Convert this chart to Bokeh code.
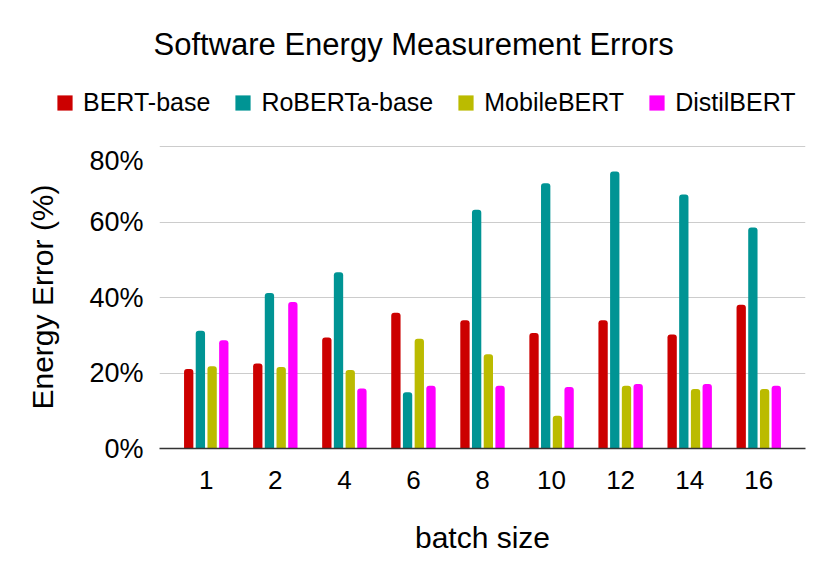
from bokeh.plotting import figure
from bokeh.layouts import column
from bokeh.models import ColumnDataSource, FactorRange, Range1d, Legend, LegendItem, FixedTicker
from bokeh.transform import dodge
from bokeh.embed import file_html
from bokeh.resources import INLINE

batches = ["1", "2", "4", "6", "8", "10", "12", "14", "16"]
models = ["BERT-base", "RoBERTa-base", "MobileBERT", "DistilBERT"]
bert_base = [21.1, 22.5, 29.4, 36.0, 34.0, 30.6, 34.0, 30.2, 38.1]
roberta_base = [31.2, 41.2, 46.7, 14.9, 63.3, 70.3, 73.4, 67.3, 58.6]
mobilebert = [21.8, 21.6, 20.8, 29.1, 25.0, 8.7, 16.6, 15.8, 15.8]
distilbert = [28.7, 38.8, 15.9, 16.6, 16.6, 16.3, 17.1, 17.1, 16.6]
y_ticks = [0, 20, 40, 60, 80]
y_tick_labels = ["0%", "20%", "40%", "60%", "80%"]

colors = ["#cc0000", "#009494", "#bbbb00", "#ff00ff"]
offsets = [-0.254, -0.085, 0.085, 0.254]
FONT = "Liberation Sans"

source = ColumnDataSource(data=dict(batch=batches, m0=bert_base, m1=roberta_base,
                                    m2=mobilebert, m3=distilbert))

# ---- header: title + legend ----
t = figure(width=814, height=145, output_backend="svg", toolbar_location=None,
           x_range=Range1d(0, 1), y_range=Range1d(0, 1),
           x_axis_location=None, y_axis_location=None,
           min_border_left=0, min_border_right=0, min_border_bottom=0, min_border_top=66)
t.frame_align = False
t.outline_line_color = None
t.grid.visible = False
t.title.text = "Software Energy Measurement Errors"
t.title.text_font = FONT
t.title.text_font_size = "31px"
t.title.text_font_style = "normal"
t.title.text_color = "#000000"
t.title.align = "left"
t.title.offset = 153
t.title.standoff = 10

items = []
for i in range(4):
    r = t.vbar(x=[0.5], top=[0], width=0, fill_color=colors[i], line_color=None)
    items.append(LegendItem(label=models[i], renderers=[r]))
legend = Legend(items=items, orientation="horizontal", location=(55, 28),
                glyph_width=19, glyph_height=19, label_standoff=9, spacing=23,
                padding=0, margin=0, border_line_color=None, background_fill_alpha=0,
                label_text_font=FONT, label_text_font_size="25px", label_text_color="#000000")
t.add_layout(legend, "center")

# ---- main chart ----
p = figure(width=814, height=415, output_backend="svg", toolbar_location=None,
           x_range=FactorRange(factors=batches, range_padding=0.177, range_padding_units="absolute"),
           y_range=Range1d(0, 80.3),
           min_border_left=159, min_border_right=9, min_border_top=0, min_border_bottom=112)
p.frame_align = False

for i, key in enumerate(["m0", "m1", "m2", "m3"]):
    p.vbar(x=dodge("batch", offsets[i], range=p.x_range), top=key, width=0.135,
           source=source, fill_color=colors[i], line_color=None, border_radius=(3, 3, 0, 0))

p.outline_line_color = None
p.xgrid.grid_line_color = None
p.ygrid.grid_line_color = "#cccccc"
p.ygrid.grid_line_width = 1

p.yaxis.ticker = FixedTicker(ticks=y_ticks)
p.yaxis.major_label_overrides = {t_: l for t_, l in zip(y_ticks, y_tick_labels)}
p.yaxis.axis_line_color = None
p.yaxis.major_tick_line_color = None
p.yaxis.major_tick_out = 0
p.yaxis.major_tick_in = 0
p.yaxis.minor_tick_line_color = None
p.yaxis.major_label_text_font = FONT
p.yaxis.major_label_text_font_size = "27px"
p.yaxis.major_label_text_color = "#000000"
p.yaxis.major_label_standoff = 16
p.yaxis.axis_label = "Energy Error (%)"
p.yaxis.axis_label_text_font = FONT
p.yaxis.axis_label_text_font_size = "30px"
p.yaxis.axis_label_text_font_style = "normal"
p.yaxis.axis_label_text_color = "#000000"
p.yaxis.axis_label_standoff = 27

p.xaxis.axis_line_color = "#333333"
p.xaxis.axis_line_width = 1.5
p.xaxis.major_tick_line_color = None
p.xaxis.major_tick_out = 0
p.xaxis.major_tick_in = 0
p.xaxis.minor_tick_line_color = None
p.xaxis.major_label_text_font = FONT
p.xaxis.major_label_text_font_size = "26px"
p.xaxis.major_label_text_color = "#000000"
p.xaxis.major_label_standoff = 22
p.xaxis.axis_label = "batch size"
p.xaxis.axis_label_text_font = FONT
p.xaxis.axis_label_text_font_size = "30px"
p.xaxis.axis_label_text_font_style = "normal"
p.xaxis.axis_label_text_color = "#000000"
p.xaxis.axis_label_standoff = 29

layout = column(t, p, spacing=0)
open("out.html", "w").write(file_html(layout, INLINE))
